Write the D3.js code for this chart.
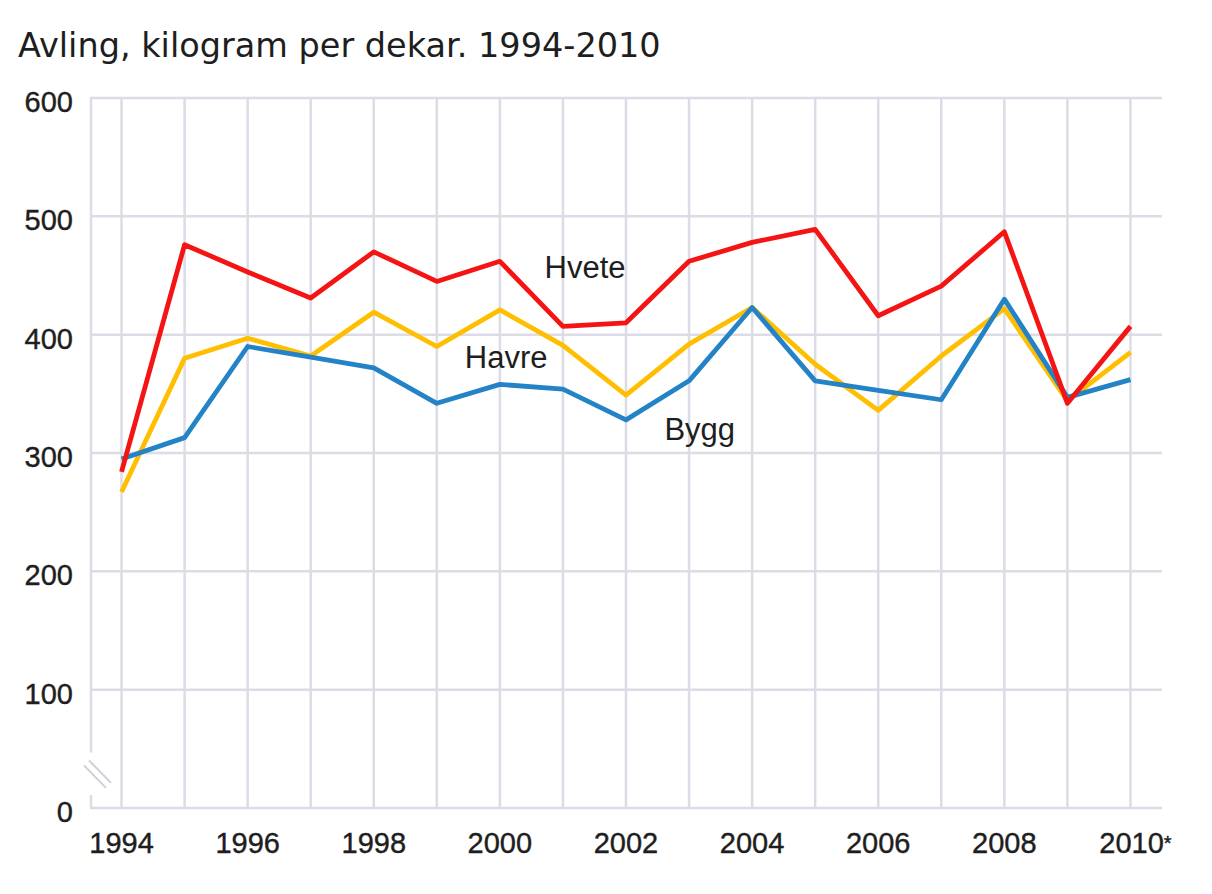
<!DOCTYPE html>
<html>
<head>
<meta charset="utf-8">
<script src="https://cdn.jsdelivr.net/npm/d3@7"></script>
<style>
  body { margin: 0; background: #fff; }
  svg { display: block; }
</style>
</head>
<body>
<div class="chart"></div>
<script>
const years = [1994, 1995, 1996, 1997, 1998, 1999, 2000, 2001, 2002, 2003, 2004, 2005, 2006, 2007, 2008, 2009, 2010]
const yearLabels = ['1994', '1996', '1998', '2000', '2002', '2004', '2006', '2008', '2010*']
const hvete = [284, 476, 453, 431, 470, 445, 462, 407, 410, 462, 478, 489, 416, 441, 487, 342, 407]
const havre = [267, 380, 397, 382, 419, 390, 421, 391, 349, 392, 423, 375, 336, 382, 422, 344, 385]
const bygg  = [295, 313, 390, 381, 372, 342, 358, 354, 328, 361, 423, 361, 353, 345, 430, 347, 362]
const yTicks = [0, 100, 200, 300, 400, 500, 600]

// label anchor: [year position, value at text baseline]
const series = [
  { name: 'Havre', values: havre, color: '#ffbf00', label: [2000.1, 372] },
  { name: 'Bygg',  values: bygg,  color: '#2383c6', label: [2003.17, 311] },
  { name: 'Hvete', values: hvete, color: '#f51414', label: [2001.35, 448] }
]

const width = 1212, height = 894
const plot = { left: 90, right: 1162, top: 98, bottom: 808 }

const svg = d3.select('.chart')
  .append('svg')
  .attr('width', width)
  .attr('height', height)

let x = d3.scaleLinear()
  .domain([1993.5, 2010.5])
  .range([plot.left, plot.right])

let y = d3.scaleLinear()
  .domain([0, 600])
  .range([plot.bottom, plot.top])

const gridColor = '#dcdce6'
const labelFont = 'Liberation Sans, Arial, sans-serif'

// horizontal grid
svg.append('g')
  .selectAll('line')
  .data(yTicks)
  .enter()
  .append('line')
  .attr('x1', plot.left)
  .attr('x2', plot.right)
  .attr('y1', d => y(d))
  .attr('y2', d => y(d))
  .attr('stroke', gridColor)
  .attr('stroke-width', 2.5)

// vertical grid
svg.append('g')
  .selectAll('line')
  .data(years)
  .enter()
  .append('line')
  .attr('x1', d => x(d))
  .attr('x2', d => x(d))
  .attr('y1', plot.top)
  .attr('y2', plot.bottom)
  .attr('stroke', gridColor)
  .attr('stroke-width', 2.5)

// left axis with break
const axisX = plot.left + 1
svg.append('line')
  .attr('x1', axisX).attr('x2', axisX)
  .attr('y1', plot.top).attr('y2', y(47))
  .attr('stroke', gridColor).attr('stroke-width', 2.5)
svg.append('line')
  .attr('x1', axisX).attr('x2', axisX)
  .attr('y1', y(11)).attr('y2', plot.bottom)
  .attr('stroke', gridColor).attr('stroke-width', 2.5)

svg.append('g')
  .selectAll('line')
  .data([0, 1])
  .enter()
  .append('line')
  .attr('x1', d => 84 + d * 5)
  .attr('y1', d => y(36) + d * -5)
  .attr('x2', d => 106 + d * 5)
  .attr('y2', d => y(17) + d * -5)
  .attr('stroke', '#cfcfd8')
  .attr('stroke-width', 2)

// y labels
svg.append('g')
  .selectAll('text')
  .data(yTicks)
  .enter()
  .append('text')
  .attr('x', 73)
  .attr('y', d => y(d) + 14)
  .attr('text-anchor', 'end')
  .attr('font-family', labelFont)
  .attr('font-size', 29)
  .attr('fill', '#1e1e1e')
  .attr('stroke', '#1e1e1e')
  .attr('stroke-width', 0.4)
  .text(d => d)

// x labels (the asterisk on 2010 is drawn smaller, as in the source)
let xLabels = svg.append('g')
  .selectAll('text')
  .data(yearLabels)
  .enter()
  .append('text')
  .attr('x', d => x(parseInt(d)) + (d.endsWith('*') ? 5 : 0))
  .attr('y', 853)
  .attr('text-anchor', 'middle')
  .attr('font-family', labelFont)
  .attr('font-size', 29)
  .attr('fill', '#1e1e1e')
  .attr('stroke', '#1e1e1e')
  .attr('stroke-width', 0.4)

xLabels.append('tspan')
  .text(d => d.replace('*', ''))
xLabels.filter(d => d.endsWith('*'))
  .append('tspan')
  .attr('font-size', 20)
  .attr('dy', -3)
  .text('*')

// title
svg.append('text')
  .attr('x', 18)
  .attr('y', 57)
  .attr('font-family', 'DejaVu Sans, Verdana, sans-serif')
  .attr('font-size', 33.5)
  .attr('fill', '#1e1e1e')
  .text('Avling, kilogram per dekar. 1994-2010')

// lines
let line = d3.line()
  .x((d, i) => x(years[i]))
  .y(d => y(d))

svg.append('g')
  .selectAll('path')
  .data(series)
  .enter()
  .append('path')
  .attr('d', d => line(d.values))
  .attr('fill', 'none')
  .attr('stroke', d => d.color)
  .attr('stroke-width', 4.8)
  .attr('stroke-linejoin', 'round')

// series labels
svg.append('g')
  .selectAll('text')
  .data(series)
  .enter()
  .append('text')
  .attr('x', d => x(d.label[0]))
  .attr('y', d => y(d.label[1]))
  .attr('text-anchor', 'middle')
  .attr('font-family', labelFont)
  .attr('font-size', 31)
  .attr('fill', '#1e1e1e')
  .text(d => d.name)
</script>
</body>
</html>
